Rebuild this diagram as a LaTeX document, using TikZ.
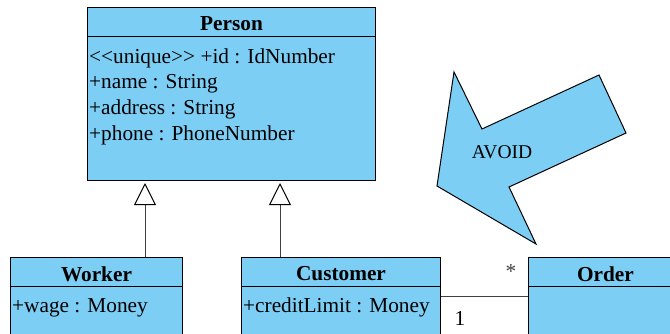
\documentclass[tikz,border=0pt]{standalone}
\usepackage{fontspec}
\setmainfont{Liberation Serif}
\usepackage{tikz}
\usetikzlibrary{positioning,arrows.meta,calc}
\definecolor{umlfill}{HTML}{7DCEF5}
\definecolor{wire}{HTML}{404040}

\begin{document}
\begin{tikzpicture}[x=1pt,y=-1pt,font=\fontsize{21.3}{25}\selectfont,
  classbox/.style={draw=black,fill=umlfill,line width=1pt,anchor=north west,inner sep=0pt},
  classname/.style={font=\fontsize{21.3}{25}\selectfont\bfseries,inner sep=0pt},
  attr/.style={anchor=west,inner sep=0pt},
  inherit/.style={draw=wire,line width=1pt,shorten >=2pt,
    -{Triangle[open,length=22pt,width=22pt,fill=white,color=black]}},
  assoc/.style={draw=wire,line width=1pt}]
  \useasboundingbox (0,0) rectangle (670,333);
  \clip (0,0) rectangle (670,333);

  % classes
  \node[classbox,minimum width=288pt,minimum height=173pt] (person) at (87,7) {};
  \draw[line width=1pt] ([yshift=-29pt]person.north west) -- ([yshift=-29pt]person.north east);
  \node[classname] at ([yshift=-17pt]person.north) {Person};
  \node[attr] (pid) at (89,58) {<\kern0pt<unique>\kern0pt> +id : IdNumber};
  \node[attr] (pname) at (89,84) {+name : String};
  \node[attr] (paddr) at (89,109.5) {+address : String};
  \node[attr] (pphone) at (89,135) {+phone : PhoneNumber};

  \node[classbox,minimum width=172pt,minimum height=100pt] (worker) at (10,257) {};
  \draw[line width=1pt] ([yshift=-29pt]worker.north west) -- ([yshift=-29pt]worker.north east);
  \node[classname] at ([yshift=-17pt]worker.north) {Worker};
  \node[attr] (wage) at (12,307.5) {+wage : Money};

  \node[classbox,minimum width=199pt,minimum height=100pt] (customer) at (241,257) {};
  \draw[line width=1pt] ([yshift=-29pt]customer.north west) -- ([yshift=-29pt]customer.north east);
  \node[classname] at ([yshift=-17pt]customer.north) {Customer};
  \node[attr] (credit) at (243,307.5) {+creditLimit : Money};

  \node[classbox,minimum width=154pt,minimum height=100pt] (order) at (528,257) {};
  \draw[line width=1pt] ([yshift=-29pt]order.north west) -- ([yshift=-29pt]order.north east);
  \node[classname] at ([yshift=-17pt]order.north) {Order};

  % generalisation
  \draw[inherit] ([xshift=135pt]worker.north west) -- ([xshift=135pt]worker.north west |- person.south);
  \draw[inherit] ([xshift=39pt]customer.north west) -- ([xshift=39pt]customer.north west |- person.south);

  % association
  \draw[assoc] ([yshift=-39pt]customer.north east) -- ([yshift=-39pt]order.north west);
  \node[text=wire,inner sep=0pt] (many) at (511,272) {*};
  \node[inner sep=0pt] (one) at (460,318) {1};

  % avoid arrow
  \draw[fill=umlfill,line width=1pt] (454,72) -- (482,129) -- (599,75) -- (626,133)
    -- (509,187) -- (536,244) -- (437,186) -- cycle;
  \node[font=\fontsize{19.5}{23}\selectfont] (avoid) at (502,152) {AVOID};
\end{tikzpicture}
\end{document}
